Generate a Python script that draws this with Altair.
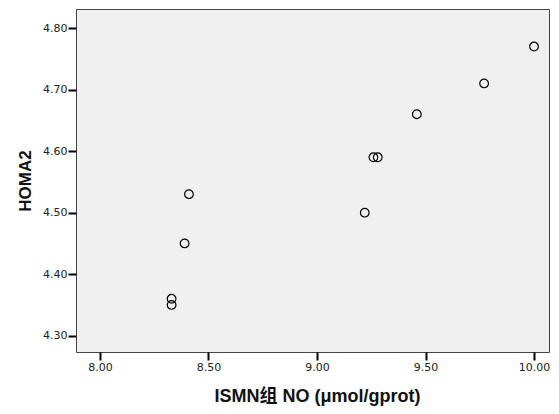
import altair as alt
import pandas as pd

no_vals = [8.33, 8.33, 8.39, 8.41, 9.22, 9.26, 9.28, 9.46, 9.77, 10.00]
homa2_vals = [4.36, 4.35, 4.45, 4.53, 4.50, 4.59, 4.59, 4.66, 4.71, 4.77]
x_ticks = [8.0, 8.5, 9.0, 9.5, 10.0]
y_ticks = [4.3, 4.4, 4.5, 4.6, 4.7, 4.8]

df = pd.DataFrame({"no": no_vals, "homa2": homa2_vals})

title_font = "Liberation Sans, Arial, Noto Sans CJK SC"
label_font = "DejaVu Sans"

chart = alt.Chart(df).mark_point(
    shape="circle", filled=False, stroke="black", strokeWidth=1.2, size=75, opacity=1
).encode(
    x=alt.X("no:Q", scale=alt.Scale(domain=[7.8895, 10.069], nice=False, zero=False),
            axis=alt.Axis(values=x_ticks, format=".2f", title="ISMN组 NO (μmol/gprot)",
                          titleY=44, titleX=241, titleBaseline="middle", titleFontSize=18)),
    y=alt.Y("homa2:Q", scale=alt.Scale(domain=[4.2735, 4.831], nice=False, zero=False),
            axis=alt.Axis(values=y_ticks, format=".2f", title="HOMA2",
                          titleX=-51, titleBaseline="middle", titleFontSize=17)),
).properties(
    width=473, height=343,
    autosize=alt.AutoSizeParams(type="none"),
    padding={"left": 68, "top": 1, "right": 1, "bottom": 54},
).configure_view(
    fill="#F0F0F0", stroke="#444444", strokeWidth=1
).configure_axis(
    grid=False, domain=False, ticks=True, tickColor="black", tickWidth=2, tickSize=8,
    labelFont=label_font, labelFontSize=11, labelColor="#222222", labelPadding=1,
    titleFont=title_font, titleFontWeight="bold", titleColor="#111111",
)

chart.save("out.html", embed_options={"renderer": "svg", "actions": False})
